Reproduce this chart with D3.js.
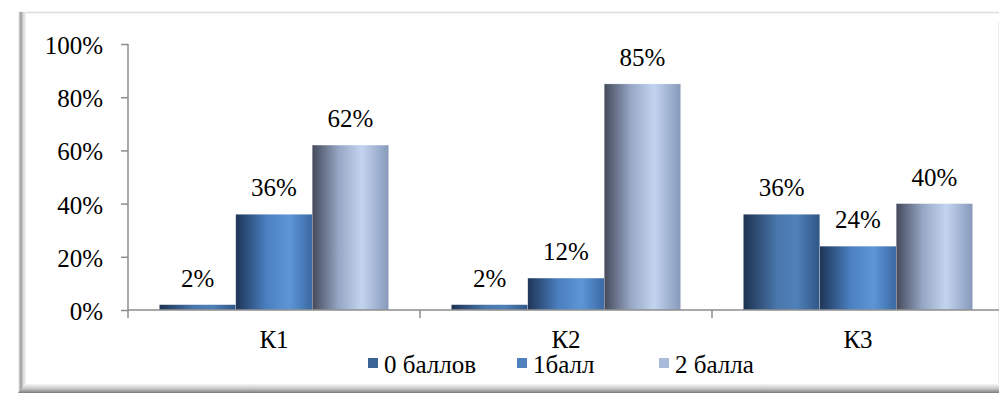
<!DOCTYPE html>
<html>
<head>
<meta charset="utf-8">
<script src="https://cdn.jsdelivr.net/npm/d3@7/dist/d3.min.js"></script>
</head>
<body>
<svg id="chart" width="999" height="393"></svg>
<script>
// Chart data
const categories = ["К1", "К2", "К3"];
const seriesNames = ["0 баллов", "1балл", "2 балла"];
const values0 = [2, 2, 36];
const values1 = [36, 12, 24];
const values2 = [62, 85, 40];
const yTicks = [0, 20, 40, 60, 80, 100];

const seriesValues = [values0, values1, values2];

// Cylinder-like horizontal gradients for each series
const gradStops = [
  [["0%", "#1c3150"], ["45%", "#4a78ad"], ["70%", "#4f80b8"], ["100%", "#2f5686"]],
  [["0%", "#1e3557"], ["40%", "#4a7fc0"], ["70%", "#5d96d8"], ["100%", "#3a69a3"]],
  [["0%", "#44495a"], ["35%", "#97a8c6"], ["65%", "#c3d4f0"], ["100%", "#8799ba"]]
];
const legendColors = ["#3d6496", "#4f81bd", "#a9bbdb"];

d3.select("body").style("margin", "0px");
const svg = d3.select("#chart").style("display", "block");
const W = 999, H = 393;
const FONT = "Liberation Serif";
const FS = "25px";
const defs = svg.append("defs");

gradStops.forEach((stops, i) => {
  const g = defs.append("linearGradient").attr("id", "bar" + i)
    .attr("x1", "0%").attr("x2", "100%").attr("y1", "0%").attr("y2", "0%");
  stops.forEach(s => g.append("stop").attr("offset", s[0]).attr("stop-color", s[1]));
});

// Frame bevel gradients
const lg = defs.append("linearGradient").attr("id", "frameLeft")
  .attr("x1", "0%").attr("x2", "100%");
lg.append("stop").attr("offset", "0%").attr("stop-color", "#ffffff");
lg.append("stop").attr("offset", "35%").attr("stop-color", "#9a9a9a");
lg.append("stop").attr("offset", "65%").attr("stop-color", "#d8d8d8");
lg.append("stop").attr("offset", "100%").attr("stop-color", "#f4f4f4");
const bg = defs.append("linearGradient").attr("id", "frameBottom")
  .attr("x1", "0%").attr("x2", "0%").attr("y1", "0%").attr("y2", "100%");
bg.append("stop").attr("offset", "0%").attr("stop-color", "#f6f6f6");
bg.append("stop").attr("offset", "55%").attr("stop-color", "#c4c4c4");
bg.append("stop").attr("offset", "100%").attr("stop-color", "#7a7a7a");

// Outer frame
svg.append("rect").attr("x", 18).attr("y", 12).attr("width", W - 18).attr("height", 381)
  .attr("fill", "#fff");
svg.append("line").attr("x1", 18).attr("x2", W).attr("y1", 12.5).attr("y2", 12.5)
  .attr("stroke", "#dcdcdc").attr("stroke-width", 1.5);
svg.append("line").attr("x1", 998.5).attr("x2", 998.5).attr("y1", 22).attr("y2", 384)
  .attr("stroke", "#ececec").attr("stroke-width", 1);
svg.append("rect").attr("x", 18).attr("y", 12).attr("width", 8).attr("height", 381)
  .attr("fill", "url(#frameLeft)");
svg.append("path")
  .attr("d", `M18,393 L26,384 L${W},384 L${W},393 Z`)
  .attr("fill", "url(#frameBottom)");

// Plot geometry
const x0 = 128, bandW = 292, y0 = 310, yTop = 44;
const x = d3.scaleBand().domain(categories).range([x0, x0 + bandW * categories.length])
  .paddingInner(0).paddingOuter(0);
const xs = d3.scaleBand().domain(d3.range(seriesNames.length))
  .range([0, x.bandwidth()]).paddingOuter(0.41).paddingInner(0);
const y = d3.scaleLinear().domain([0, 100]).range([y0, yTop]);

function styleText(sel) {
  return sel.style("font-family", FONT).style("font-size", FS).attr("fill", "#000");
}

// Y axis
const yAxis = svg.append("g").attr("transform", `translate(${x0},0)`)
  .call(d3.axisLeft(y).tickValues(yTicks).tickSize(7).tickPadding(18)
    .tickFormat(d => d + "%"));
yAxis.attr("font-family", FONT).attr("font-size", 25);
yAxis.select(".domain").attr("stroke", "#8c8c8c").attr("stroke-width", 1.5)
  .attr("d", `M0,${y0}V${yTop}`);
yAxis.selectAll(".tick line").attr("stroke", "#8c8c8c").attr("stroke-width", 1.5);
styleText(yAxis.selectAll(".tick text")).attr("dy", "0.38em");

// Bars with value labels
const labels = svg.append("g").attr("font-family", FONT).attr("font-size", 25);
categories.forEach((c, ci) => {
  seriesValues.forEach((vals, si) => {
    const v = vals[ci];
    svg.insert("rect", "g")
      .attr("x", x(c) + xs(si))
      .attr("y", y(v))
      .attr("width", xs.bandwidth())
      .attr("height", y0 - y(v))
      .attr("fill", `url(#bar${si})`)
      .attr("stroke", "rgba(255,255,255,0.5)").attr("stroke-width", 0.5);
    styleText(labels.append("text")
      .attr("x", x(c) + xs(si) + xs.bandwidth() / 2)
      .attr("y", y(v) - 18)
      .attr("text-anchor", "middle"))
      .text(v + "%");
  });
});

// X axis
const xAxis = svg.append("g").attr("transform", `translate(0,${y0})`)
  .call(d3.axisBottom(x).tickSize(0).tickPadding(20));
xAxis.attr("font-family", FONT).attr("font-size", 25);
xAxis.select(".domain").attr("stroke", "#8c8c8c").attr("stroke-width", 1.5)
  .attr("d", `M${x0},0H${W}`);
styleText(xAxis.selectAll(".tick text")).attr("dy", "0.71em");
d3.range(categories.length).forEach(i => {
  xAxis.append("line").attr("x1", x0 + i * bandW).attr("x2", x0 + i * bandW)
    .attr("y1", 0).attr("y2", 8).attr("stroke", "#8c8c8c").attr("stroke-width", 1.5);
});

// Legend
const legendX = [368, 517, 659];
const legend = svg.append("g").attr("font-family", FONT).attr("font-size", 25);
seriesNames.forEach((n, i) => {
  legend.append("rect").attr("x", legendX[i]).attr("y", 358).attr("width", 10).attr("height", 10)
    .attr("fill", legendColors[i]);
  styleText(legend.append("text").attr("x", legendX[i] + 16).attr("y", 373)).text(n);
});
</script>
</body>
</html>
